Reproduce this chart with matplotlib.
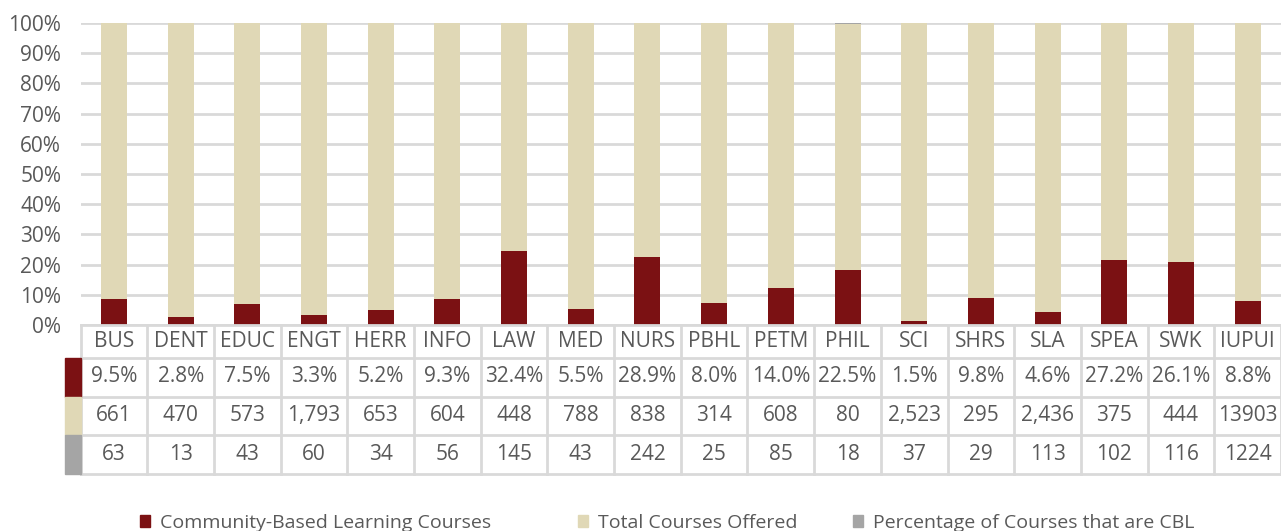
import matplotlib
matplotlib.use("Agg")
import matplotlib.pyplot as plt
from matplotlib.patches import Rectangle
from matplotlib.ticker import PercentFormatter

# data
schools = ["BUS", "DENT", "EDUC", "ENGT", "HERR", "INFO", "LAW", "MED", "NURS",
           "PBHL", "PETM", "PHIL", "SCI", "SHRS", "SLA", "SPEA", "SWK", "IUPUI"]
cbl_courses = [63, 13, 43, 60, 34, 56, 145, 43, 242, 25, 85, 18, 37, 29, 113, 102, 116, 1224]
total_courses = [661, 470, 573, 1793, 653, 604, 448, 788, 838, 314, 608, 80, 2523,
                 295, 2436, 375, 444, 13903]
pct_cbl = [9.5, 2.8, 7.5, 3.3, 5.2, 9.3, 32.4, 5.5, 28.9, 8.0, 14.0, 22.5, 1.5,
           9.8, 4.6, 27.2, 26.1, 8.8]
series_names = ["Community-Based Learning Courses", "Total Courses Offered",
                "Percentage of Courses that are CBL"]

RED = "#7b1113"
TAN = "#e0d8b6"
GRAY = "#a5a5a5"
GRID = "#d9d9d9"
TXT = "#595959"
FONT = ["Open Sans", "DejaVu Sans"]

W, H = 1281, 531
fig = plt.figure(figsize=(W / 100, H / 100), dpi=100)

# pixel layout
left, right = 80.6, 1281
top, zero = 23, 325
t_rows = [325, 357.5, 396.5, 435, 473.5]

def fx(px):
    return px / W

def fy(py):
    return 1 - py / H

ax = fig.add_axes([fx(left), fy(zero), fx(right - left), (zero - top) / H])
n = len(schools)
x = list(range(n))

# 100% stacked: shares of the summed series
sums = [c + t + p / 100 for c, t, p in zip(cbl_courses, total_courses, pct_cbl)]
s1 = [c / s * 100 for c, s in zip(cbl_courses, sums)]
s2 = [t / s * 100 for t, s in zip(total_courses, sums)]
s3 = [p / 100 / s * 100 for p, s in zip(pct_cbl, sums)]
b2 = s1
b3 = [a + b for a, b in zip(s1, s2)]

bw = 0.39
ax.bar(x, s1, width=bw, color=RED, zorder=3)
ax.bar(x, s2, width=bw, bottom=b2, color=TAN, zorder=3)
ax.bar(x, s3, width=bw, bottom=b3, color=GRAY, zorder=3)

ax.set_xlim(-0.5, n - 0.5)
ax.set_ylim(0, 100)
ax.set_yticks(range(0, 101, 10))
ax.yaxis.set_major_formatter(PercentFormatter(decimals=0))
ax.tick_params(axis="y", length=0, pad=14, labelsize=15, labelcolor=TXT)
for lab in ax.get_yticklabels():
    lab.set_family(FONT)
ax.set_xticks([])
ax.grid(axis="y", color=GRID, linewidth=2, zorder=0)
for sp in ax.spines.values():
    sp.set_visible(False)

# data table below the chart
tax = fig.add_axes([fx(left), fy(t_rows[-1]), fx(right - left), (t_rows[-1] - t_rows[0]) / H])
tax.set_xlim(-0.5, n - 0.5)
tax.set_ylim(t_rows[-1], t_rows[0])
tax.axis("off")

for yy in t_rows:
    tax.plot([-0.5, n - 0.5], [yy, yy], color=GRID, lw=2, clip_on=False, zorder=1)
for i in range(n + 1):
    tax.plot([i - 0.5, i - 0.5], [t_rows[0], t_rows[-1]], color=GRID, lw=2,
             clip_on=False, zorder=1)

total_text = [f"{v:,}" if v < 10000 else str(v) for v in total_courses]
rows = [schools,
        [f"{p:.1f}%" for p in pct_cbl],
        total_text,
        [str(v) for v in cbl_courses]]
for r, labels in enumerate(rows):
    yc = (t_rows[r] + t_rows[r + 1]) / 2
    for i, lab in enumerate(labels):
        tax.text(i, yc, lab, ha="center", va="center", fontsize=15,
                 color=TXT, family=FONT, clip_on=False)

# row keys at the left of the table
key_w = 16 / 66.7
for r, col in enumerate([RED, TAN, GRAY]):
    tax.add_patch(Rectangle((-0.5 - key_w, t_rows[r + 1]), key_w,
                            t_rows[r + 2] - t_rows[r + 1], color=col,
                            clip_on=False, zorder=2))

# legend
leg_x = [140, 578, 853]
for xs, col, name in zip(leg_x, [RED, TAN, GRAY], series_names):
    fig.patches.append(Rectangle((fx(xs), fy(527)), fx(10), 12 / H, color=col,
                                 transform=fig.transFigure, figure=fig))
    fig.text(fx(xs + 20), fy(523), name, ha="left", va="center", fontsize=14,
             color=TXT, family=FONT)

fig.savefig("out.png", dpi=100)
